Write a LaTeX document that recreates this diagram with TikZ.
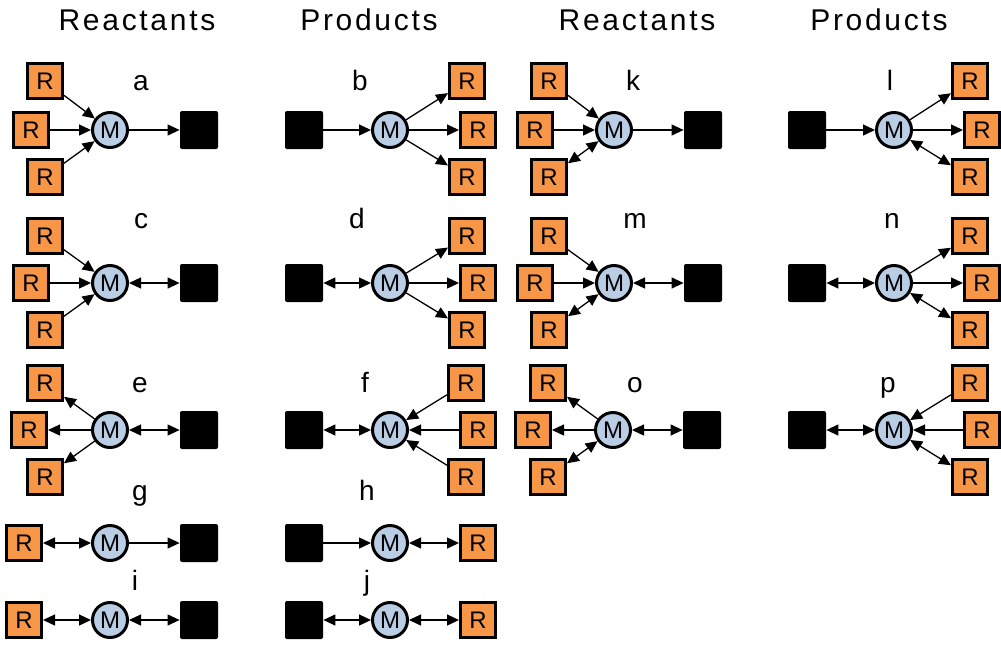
\documentclass[tikz,border=0pt]{standalone}
\usepackage{fontspec}
\setmainfont{Liberation Sans}
\newfontfamily\headfont[LetterSpace=9]{Liberation Sans}
\usetikzlibrary{arrows.meta}
\definecolor{rfill}{HTML}{F79646}
\definecolor{mfill}{HTML}{B9CDE5}
\tikzset{
  rbox/.style={draw, line width=1.5pt, fill=rfill, minimum size=17.5pt, inner sep=0pt, font=\fontsize{12}{12}\selectfont},
  mcirc/.style={circle, draw, line width=1.5pt, fill=mfill, minimum size=17.5pt, inner sep=0pt, font=\fontsize{12}{12}\selectfont},
  sq/.style={fill=black, minimum size=19pt, inner sep=0pt, rounded corners=1pt},
  lbl/.style={anchor=base, font=\fontsize{14}{14}\selectfont},
  head/.style={anchor=base, font=\headfont\fontsize{15}{15}\selectfont},
  fwd/.style={line width=0.65pt, -{Triangle[length=6pt,width=5.5pt]}},
  both/.style={line width=0.65pt, {Triangle[length=6pt,width=5.5pt]}-{Triangle[length=6pt,width=5.5pt]}},
}
\begin{document}
\begin{tikzpicture}[x=0.5pt,y=-0.5pt]
\useasboundingbox (0,0) rectangle (1001,644);

\node[head] (h1) at (137,30) {Reactants};
\node[head] (h2) at (369,30) {Products};
\node[head] (h3) at (637,30) {Reactants};
\node[head] (h4) at (879,30) {Products};

% a
\node[lbl] (aL) at (141,90) {a};
\node[rbox] (aR1) at (45,81) {R};
\node[rbox] (aR2) at (31,130) {R};
\node[rbox] (aR3) at (45,177) {R};
\node[mcirc] (aM) at (110,130) {M};
\node[sq] (aS) at (199,130) {};
\draw[fwd] (aR1) -- (aM);
\draw[fwd] (aR2) -- (aM);
\draw[fwd] (aR3) -- (aM);
\draw[fwd] (aM) -- (aS);

% b
\node[lbl] (bL) at (360,90) {b};
\node[sq] (bS) at (304,130) {};
\node[mcirc] (bM) at (390,130) {M};
\node[rbox] (bR1) at (467,81) {R};
\node[rbox] (bR2) at (478,130) {R};
\node[rbox] (bR3) at (467,177) {R};
\draw[fwd] (bS) -- (bM);
\draw[fwd] (bM) -- (bR1);
\draw[fwd] (bM) -- (bR2);
\draw[fwd] (bM) -- (bR3);

% c
\node[lbl] (cL) at (141,228) {c};
\node[rbox] (cR1) at (45,236) {R};
\node[rbox] (cR2) at (31,283) {R};
\node[rbox] (cR3) at (45,330) {R};
\node[mcirc] (cM) at (110,283) {M};
\node[sq] (cS) at (199,283) {};
\draw[fwd] (cR1) -- (cM);
\draw[fwd] (cR2) -- (cM);
\draw[fwd] (cR3) -- (cM);
\draw[both] (cM) -- (cS);

% d
\node[lbl] (dL) at (357,228) {d};
\node[sq] (dS) at (304,283) {};
\node[mcirc] (dM) at (390,283) {M};
\node[rbox] (dR1) at (467,236) {R};
\node[rbox] (dR2) at (478,283) {R};
\node[rbox] (dR3) at (467,330) {R};
\draw[both] (dS) -- (dM);
\draw[fwd] (dM) -- (dR1);
\draw[fwd] (dM) -- (dR2);
\draw[fwd] (dM) -- (dR3);

% e
\node[lbl] (eL) at (140,392) {e};
\node[rbox] (eR1) at (45,383) {R};
\node[rbox] (eR2) at (29,430) {R};
\node[rbox] (eR3) at (45,477) {R};
\node[mcirc] (eM) at (110,430) {M};
\node[sq] (eS) at (199,430) {};
\draw[fwd] (eM) -- (eR1);
\draw[fwd] (eM) -- (eR2);
\draw[fwd] (eM) -- (eR3);
\draw[both] (eM) -- (eS);

% f
\node[lbl] (fL) at (365,392) {f};
\node[sq] (fS) at (304,430) {};
\node[mcirc] (fM) at (390,430) {M};
\node[rbox] (fR1) at (466,383) {R};
\node[rbox] (fR2) at (478,430) {R};
\node[rbox] (fR3) at (466,477) {R};
\draw[both] (fS) -- (fM);
\draw[fwd] (fR1) -- (fM);
\draw[fwd] (fR2) -- (fM);
\draw[fwd] (fR3) -- (fM);

% g
\node[lbl] (gL) at (140,500) {g};
\node[rbox] (gR) at (24,543) {R};
\node[mcirc] (gM) at (110,543) {M};
\node[sq] (gS) at (199,543) {};
\draw[both] (gR) -- (gM);
\draw[fwd] (gM) -- (gS);

% h
\node[lbl] (hL) at (367,500) {h};
\node[sq] (hS) at (304,543) {};
\node[mcirc] (hM) at (390,543) {M};
\node[rbox] (hR) at (478,543) {R};
\draw[fwd] (hS) -- (hM);
\draw[both] (hM) -- (hR);

% i
\node[lbl] (iL) at (135,590) {i};
\node[rbox] (iR) at (24,620) {R};
\node[mcirc] (iM) at (110,620) {M};
\node[sq] (iS) at (199,620) {};
\draw[both] (iR) -- (iM);
\draw[both] (iM) -- (iS);

% j
\node[lbl] (jL) at (367,590) {j};
\node[sq] (jS) at (304,620) {};
\node[mcirc] (jM) at (390,620) {M};
\node[rbox] (jR) at (478,620) {R};
\draw[both] (jS) -- (jM);
\draw[both] (jM) -- (jR);

% k
\node[lbl] (kL) at (633,90) {k};
\node[rbox] (kR1) at (549,81) {R};
\node[rbox] (kR2) at (535,130) {R};
\node[rbox] (kR3) at (549,177) {R};
\node[mcirc] (kM) at (614,130) {M};
\node[sq] (kS) at (703,130) {};
\draw[fwd] (kR1) -- (kM);
\draw[fwd] (kR2) -- (kM);
\draw[both] (kR3) -- (kM);
\draw[fwd] (kM) -- (kS);

% l
\node[lbl] (lL) at (890,90) {l};
\node[sq] (lS) at (807,130) {};
\node[mcirc] (lM) at (894,130) {M};
\node[rbox] (lR1) at (970,81) {R};
\node[rbox] (lR2) at (982,130) {R};
\node[rbox] (lR3) at (970,177) {R};
\draw[fwd] (lS) -- (lM);
\draw[fwd] (lM) -- (lR1);
\draw[fwd] (lM) -- (lR2);
\draw[both] (lM) -- (lR3);

% m
\node[lbl] (mL) at (635,228) {m};
\node[rbox] (mR1) at (549,236) {R};
\node[rbox] (mR2) at (535,283) {R};
\node[rbox] (mR3) at (549,330) {R};
\node[mcirc] (mM) at (614,283) {M};
\node[sq] (mS) at (703,283) {};
\draw[fwd] (mR1) -- (mM);
\draw[fwd] (mR2) -- (mM);
\draw[both] (mR3) -- (mM);
\draw[both] (mM) -- (mS);

% n
\node[lbl] (nL) at (892,228) {n};
\node[sq] (nS) at (807,283) {};
\node[mcirc] (nM) at (894,283) {M};
\node[rbox] (nR1) at (970,236) {R};
\node[rbox] (nR2) at (982,283) {R};
\node[rbox] (nR3) at (970,330) {R};
\draw[both] (nS) -- (nM);
\draw[fwd] (nM) -- (nR1);
\draw[fwd] (nM) -- (nR2);
\draw[both] (nM) -- (nR3);

% o
\node[lbl] (oL) at (635,392) {o};
\node[rbox] (oR1) at (548,383) {R};
\node[rbox] (oR2) at (533,430) {R};
\node[rbox] (oR3) at (548,477) {R};
\node[mcirc] (oM) at (613,430) {M};
\node[sq] (oS) at (702,430) {};
\draw[fwd] (oM) -- (oR1);
\draw[fwd] (oM) -- (oR2);
\draw[both] (oM) -- (oR3);
\draw[both] (oM) -- (oS);

% p
\node[lbl] (pL) at (888,392) {p};
\node[sq] (pS) at (807,430) {};
\node[mcirc] (pM) at (894,430) {M};
\node[rbox] (pR1) at (970,383) {R};
\node[rbox] (pR2) at (982,430) {R};
\node[rbox] (pR3) at (970,477) {R};
\draw[both] (pS) -- (pM);
\draw[fwd] (pR1) -- (pM);
\draw[fwd] (pR2) -- (pM);
\draw[both] (pR3) -- (pM);
\end{tikzpicture}
\end{document}
